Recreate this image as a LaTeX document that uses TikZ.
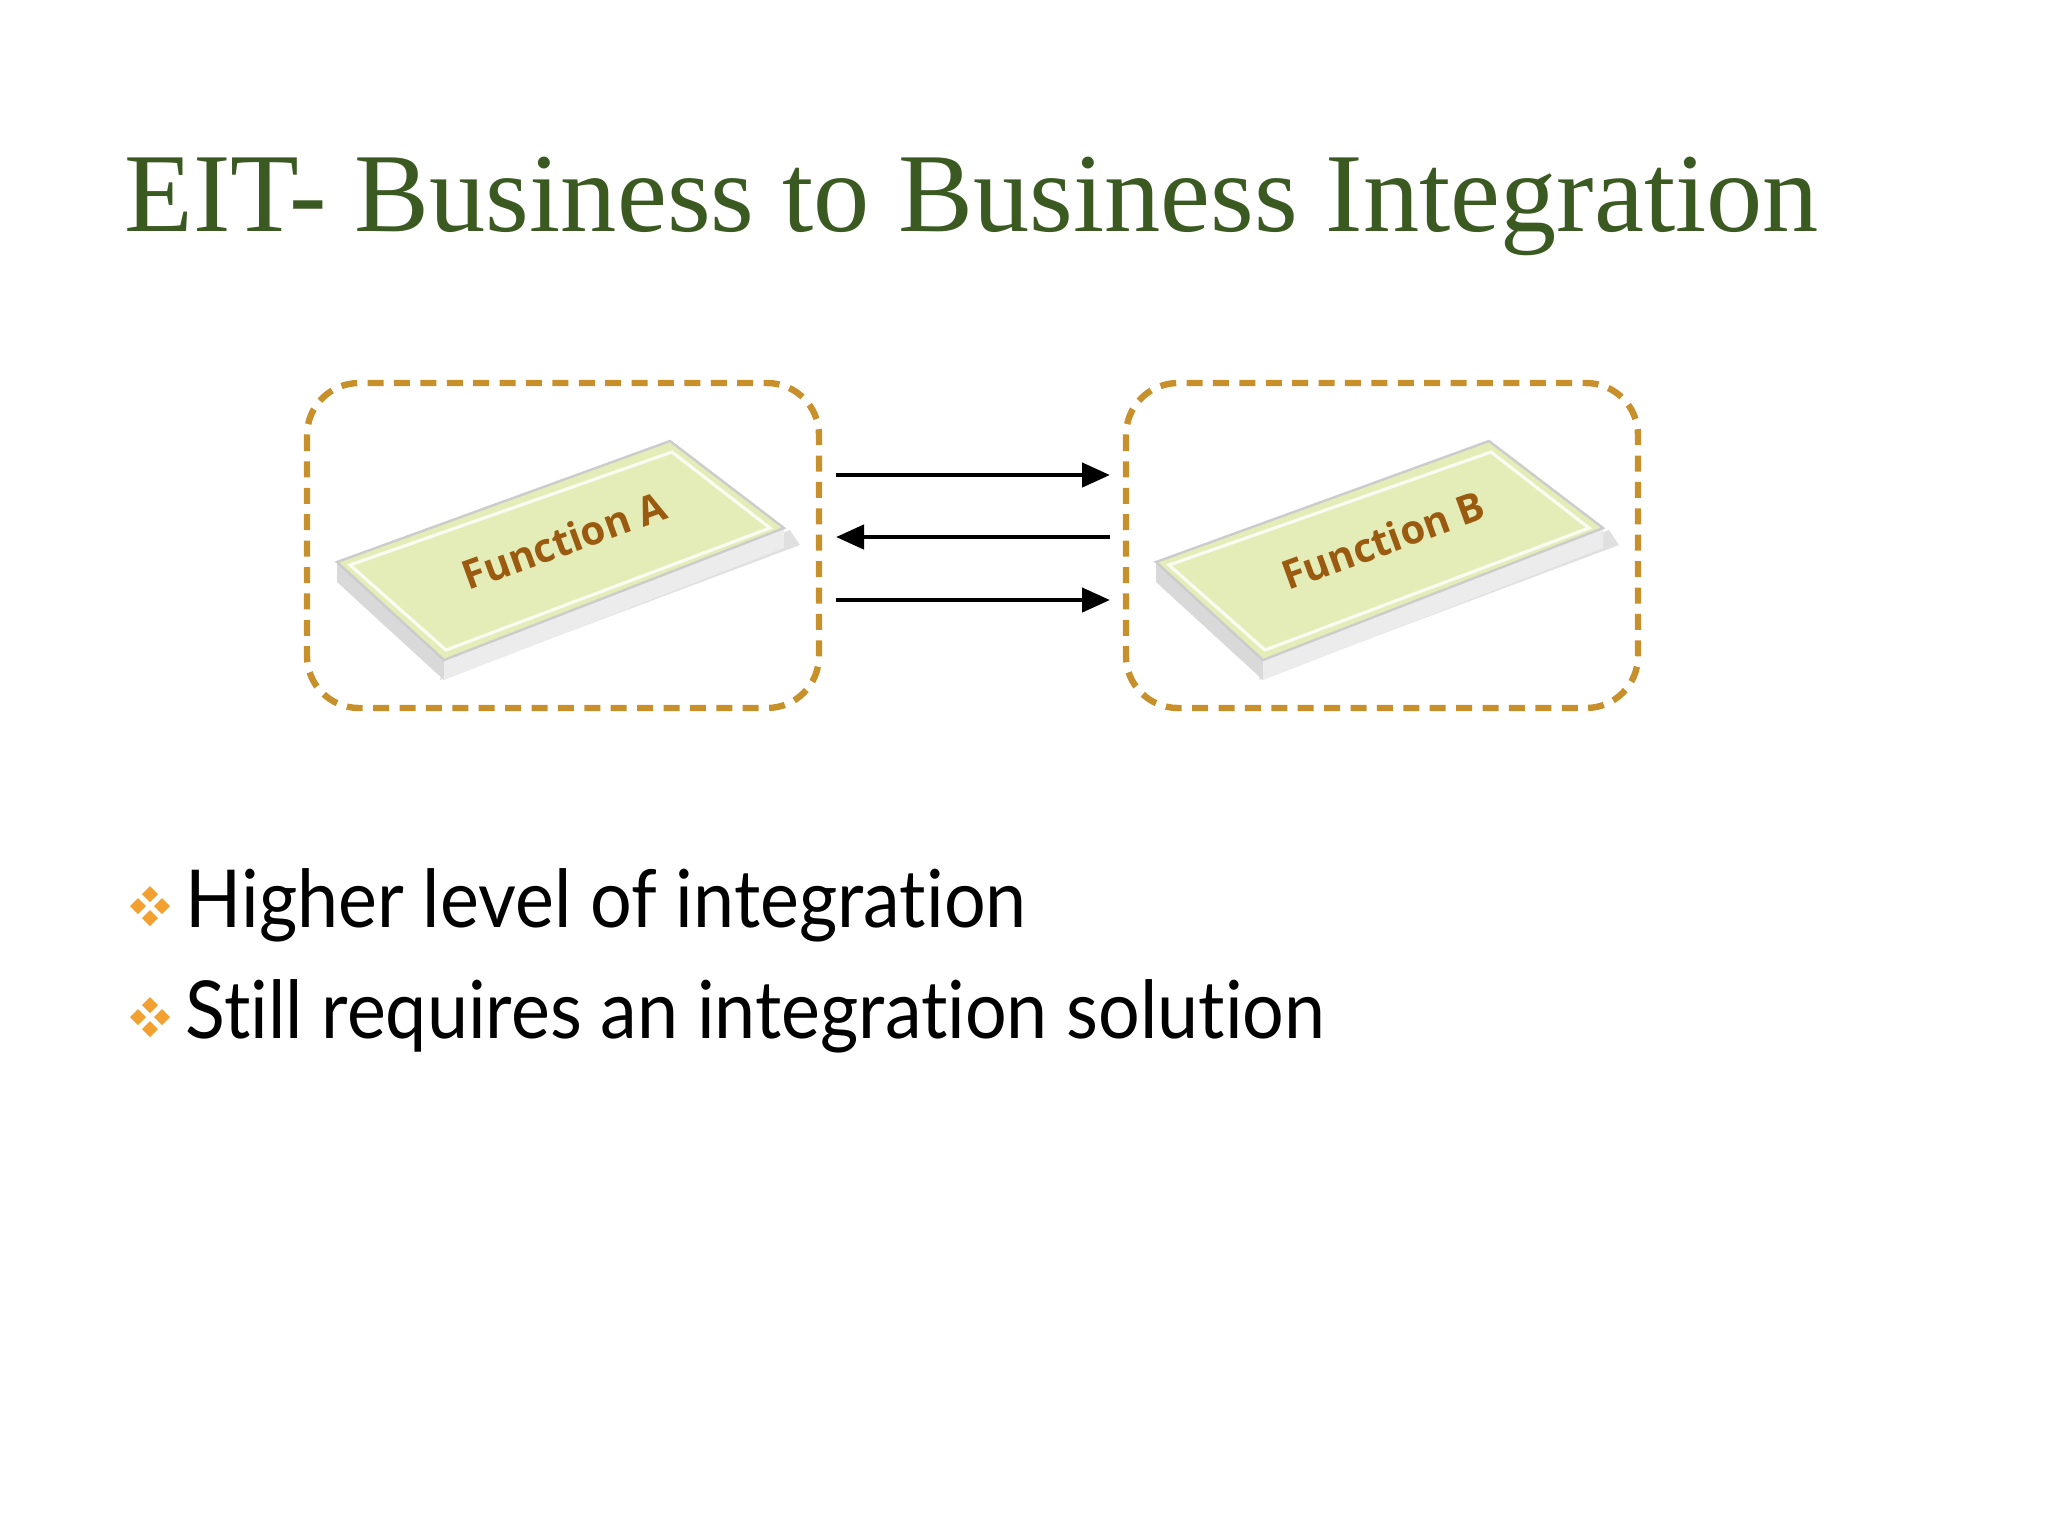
\documentclass[tikz,border=0pt]{standalone}
\usepackage{fontspec}
\setmainfont{Liberation Serif}
\newfontfamily\bodyfont{Lato}[FakeStretch=0.92,RawFeature=-liga]
\newfontfamily\slabfont{Open Sans}
\usetikzlibrary{arrows.meta}
\definecolor{titlegreen}{HTML}{3B5A22}
\definecolor{dashor}{HTML}{C8902A}
\definecolor{bulor}{HTML}{F2A030}
\definecolor{slabtop}{HTML}{E4EDB8}
\definecolor{slabtxt}{HTML}{9A5A10}
\tikzset{
 fbox/.style={draw=dashor,line width=1.6pt,dash pattern=on 4pt off 2.6pt,rounded corners=13pt},
 flow/.style={line width=1.1pt,-{Triangle[length=7pt,width=6pt]}},
 bullettxt/.style={anchor=base west,inner sep=0,font=\bodyfont\fontsize{20}{24}\selectfont},
}
\newcommand{\slab}[2]{%
 \begin{scope}[shift={(#1,0)}]
  \fill[black!12] (440,680) -- (800,545) -- (790,530) -- (444,664) -- cycle;
  \fill[gray!30] (337,562) -- (444,660) -- (444,680) -- (337,582) -- cycle;
  \fill[gray!15] (444,660) -- (784,528) -- (784,548) -- (444,680) -- cycle;
  \fill[slabtop,draw=gray!40,line width=0.6pt] (337,562) -- (670,441) -- (784,528) -- (444,660) -- cycle;
  \draw[white!80!slabtop,line width=0.8pt] (350,565) -- (672,452) -- (770,528) -- (446,650) -- cycle;
  \node[rotate=20,text=slabtxt,font=\slabfont\bfseries\fontsize{10}{12}\selectfont] at (564,540) {#2};
 \end{scope}}
\begin{document}
\begin{tikzpicture}[x=0.25pt,y=-0.25pt]
\useasboundingbox[fill=white] (0,0) rectangle (2048,1536);
\node[anchor=base west,inner sep=0,text=titlegreen,font=\fontsize{28.1}{34}\selectfont] (title) at (124,231) {EIT- Business to Business Integration};
\draw[fbox] (307,383) rectangle (819,708);
\draw[fbox] (1126,383) rectangle (1638,708);
\slab{0}{Function A}
\slab{819}{Function B}
\coordinate (a1) at (836,475); \coordinate (b1) at (1110,475);
\coordinate (a2) at (836,537); \coordinate (b2) at (1110,537);
\coordinate (a3) at (836,600); \coordinate (b3) at (1110,600);
\draw[flow] (a1) -- (b1);
\draw[flow] (b2) -- (a2);
\draw[flow] (a3) -- (b3);
\foreach \yy in {906,1017}{
 \foreach \dx/\dy in {0/-12,0/12,-12/0,12/0}{
  \fill[bulor] (150+\dx,\yy+\dy) +(0,-8) -- +(8,0) -- +(0,8) -- +(-8,0) -- cycle;}}
\node[bullettxt] (l1) at (185,927) {Higher level of integration};
\node[bullettxt] (l2) at (185,1038) {Still requires an integration solution};
\end{tikzpicture}
\end{document}
